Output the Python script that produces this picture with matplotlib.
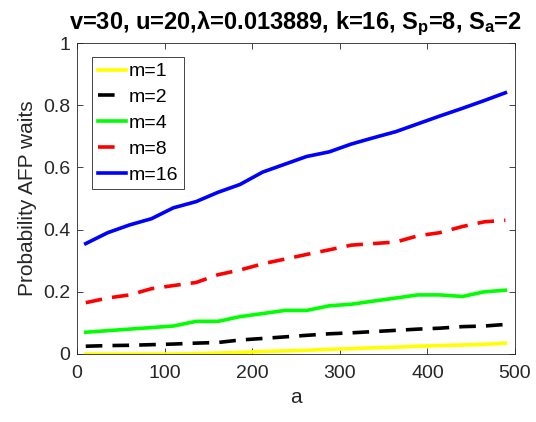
import matplotlib
matplotlib.use("Agg")
import matplotlib.pyplot as plt
from matplotlib.lines import Line2D

a_vals = [10, 35, 60, 85, 110, 136, 161, 186, 212, 237, 262, 288, 313, 338, 364, 389, 414, 440, 465, 489]
m1 = [0, 0, 0, 0, 0, 0.001, 0.003, 0.005, 0.008, 0.010, 0.012, 0.015, 0.017, 0.020, 0.022, 0.025, 0.027, 0.029, 0.031, 0.035]
m2 = [0.025, 0.027, 0.028, 0.030, 0.032, 0.035, 0.037, 0.045, 0.050, 0.055, 0.060, 0.065, 0.068, 0.072, 0.076, 0.080, 0.083, 0.088, 0.090, 0.095]
m4 = [0.070, 0.075, 0.080, 0.085, 0.090, 0.105, 0.105, 0.120, 0.130, 0.140, 0.140, 0.155, 0.160, 0.170, 0.180, 0.190, 0.190, 0.185, 0.200, 0.205]
m8 = [0.165, 0.180, 0.190, 0.210, 0.220, 0.230, 0.255, 0.270, 0.290, 0.305, 0.320, 0.335, 0.350, 0.355, 0.360, 0.380, 0.390, 0.410, 0.425, 0.430]
m16 = [0.355, 0.390, 0.415, 0.435, 0.470, 0.490, 0.520, 0.545, 0.585, 0.610, 0.635, 0.650, 0.675, 0.695, 0.715, 0.740, 0.765, 0.790, 0.815, 0.840]
labels = ["m=1", "m=2", "m=4", "m=8", "m=16"]
xticks = [0, 100, 200, 300, 400, 500]
yticks = [0, 0.2, 0.4, 0.6, 0.8, 1]
yticklabels = ["0", "0.2", "0.4", "0.6", "0.8", "1"]

plt.rcParams['font.family'] = ['Liberation Sans', 'DejaVu Sans']
plt.rcParams['mathtext.fontset'] = 'custom'
plt.rcParams['mathtext.rm'] = 'Liberation Sans:bold'
plt.rcParams['mathtext.it'] = 'Liberation Sans:bold'
plt.rcParams['mathtext.bf'] = 'Liberation Sans:bold'

fig = plt.figure(figsize=(5.36, 4.22), dpi=100)
ax = fig.add_axes([77 / 536, 68 / 422, 438 / 536, 311 / 422])

lw = 2.6
dash = (4.6, 2.8)
series = [m1, m2, m4, m8, m16]
colors = ["#ffff00", "#000000", "#00ff00", "#ff0000", "#0000ff"]
styles = ["-", "--", "-", "--", "-"]
handles = []
for ys, c, s, lab in zip(series, colors, styles, labels):
    if s == "--":
        ax.plot(a_vals, ys, color=c, linewidth=lw, linestyle=(0, dash))
        handles.append(Line2D([], [], color=c, linewidth=lw, linestyle=(0, (4.6, 20))))
    else:
        ax.plot(a_vals, ys, color=c, linewidth=lw)
        handles.append(Line2D([], [], color=c, linewidth=lw))

ax.set_xlim(0, 500)
ax.set_ylim(0, 1)
ax.set_xticks(xticks)
ax.set_yticks(yticks)
ax.set_yticklabels(yticklabels)
ax.tick_params(direction='in', top=True, right=True, labelsize=14, colors='#262626',
               length=4, width=0.6)
ax.tick_params(axis='x', pad=8)
ax.tick_params(axis='y', pad=5)
for sp in ax.spines.values():
    sp.set_color('#262626')
    sp.set_linewidth(0.6)
ax.set_xlabel("a", fontsize=15, color='#262626', labelpad=4)
ax.set_ylabel("Probability AFP waits", fontsize=15, color='#262626', labelpad=4)
ax.set_title(r"v=30, u=20,$\lambda$=0.013889, k=16, S$_{\mathbf{p}}$=8, S$_{\mathbf{a}}$=2",
             fontsize=17, fontweight='bold', pad=10)

leg = ax.legend(handles, labels, loc='upper left', bbox_to_anchor=(0.034, 0.955),
                borderaxespad=0, fontsize=14,
                handlelength=1.45, handletextpad=0.15, labelspacing=0.42,
                borderpad=0.3, fancybox=False, framealpha=1, edgecolor='#262626')
leg.get_frame().set_linewidth(0.6)

fig.savefig("out.png", dpi=100)
